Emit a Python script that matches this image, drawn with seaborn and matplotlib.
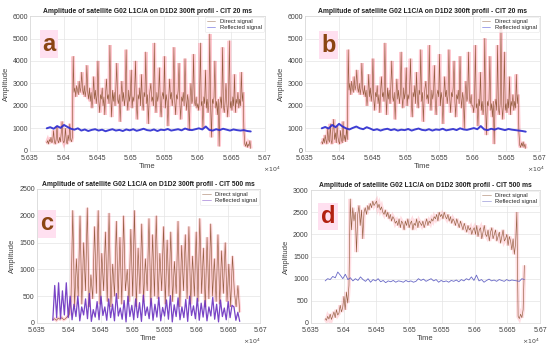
import numpy as np
import matplotlib
matplotlib.use("Agg")
import matplotlib.pyplot as plt
import seaborn as sns

# ===================== DATA =====================
TITLE_20  = "Amplitude of satellite G02 L1C/A on D1D2 300ft profil - CIT 20 ms"
TITLE_500 = "Amplitude of satellite G02 L1C/A on D1D2 300ft profil - CIT 500 ms"
x_ticks  = [5.635, 5.64, 5.645, 5.65, 5.655, 5.66, 5.665, 5.67]
x_labels = ["5.635", "5.64", "5.645", "5.65", "5.655", "5.66", "5.665", "5.67"]
y_ticks_ab = [0, 1000, 2000, 3000, 4000, 5000, 6000]
y_ticks_c  = [0, 500, 1000, 1500, 2000, 2500]
y_ticks_d  = [0, 500, 1000, 1500, 2000, 2500, 3000]

# time span of each record (x 10^4)
span_a = (5.6375, 5.6679)
span_b = (5.6375, 5.6679)
span_c = (5.6375, 5.6668)
span_d = (5.6372, 5.6676)

# panel a - CIT 20 ms
direct_a = [350, 450, 300, 500, 400, 600, 350, 450, 900, 400, 300, 500, 1100, 450, 350, 600,
            400, 800, 1300, 450, 350, 500, 1000, 400, 300, 700, 450, 1200, 500, 400, 600,
            4200, 2600, 2800, 2400, 2900, 2700, 2500, 3100, 2600, 2800, 3500, 2700, 2500, 2900,
            2400, 2700, 3800, 2600, 2300, 2800,
            2200, 2600, 1900, 2400, 3300, 2300, 2700, 2100, 2500, 4000,
            2200, 1700, 2500, 2300, 2800, 2000, 2400, 1600, 2600, 3200,
            2300, 2500, 2100, 4700, 2400, 1500, 2700, 2200, 2600, 2000,
            2800, 3900, 2300, 2100, 2500, 1300, 2400, 3100, 2200, 2600,
            2000, 2400, 4500, 2300, 1800, 2700, 2200, 2500, 3600, 1900,
            2400, 2200, 2700, 4000, 2100, 1400, 2500, 2300, 2800, 2000,
            3400, 2300, 1800, 2600, 2400, 4400, 2100, 2500, 1200, 2300,
            2700, 3000, 2200, 2400, 2000, 4800, 2300, 1700, 2600, 2200,
            2500, 3700, 2100, 1500, 2400, 2600, 2300, 4200, 1900, 2500,
            2200, 1100, 2400, 3200, 2300, 2600, 2000, 2400, 4600, 2200,
            1600, 2500, 2300, 2700, 3900, 2100, 1400, 2400, 2200, 2600,
            2000, 4100, 2300, 1800, 2500, 2200, 900, 2400, 3000, 2100,
            2300, 4300, 2200, 2000, 2400, 1900,
            2100, 1800, 2300, 4800, 2000, 2200, 1000, 2400, 2100, 3600,
            1900, 2300, 1700, 2200, 5200, 2000, 600, 2300, 2100, 2400,
            4000, 1900, 2200, 1600, 2300, 200, 2100, 2400, 1900, 4600,
            2000, 1700, 2200, 3000, 2100, 1500, 2300, 4900, 1900, 2200,
            1800, 2400, 2000, 3400, 1700, 2300, 2100, 2600, 1900, 2300,
            2000, 3500, 2200, 2600,
            900, 300, 200, 400, 150, 300, 200, 450, 100]
reflected_a = [1000, 1050, 980, 1100, 1020, 1150, 1060, 980, 940, 1000, 900, 950, 880, 930, 960, 900, 940,
               870, 920, 960, 900, 930, 880, 950, 910, 960, 890, 930, 980, 920, 900, 950, 880, 940, 920,
               970, 900, 930, 960, 910, 990, 940, 920, 960, 1000, 950, 1080, 930, 900, 960, 920, 980,
               940, 900, 950, 920, 900, 920, 880, 860]

# panel b - CIT 20 ms
direct_b = [400, 300, 550, 350, 700, 450, 300, 1000, 500, 380, 1200, 450, 300, 900, 1400, 500,
            800, 350, 1100, 600, 400, 300, 900, 500, 350, 1300, 450, 700, 400, 1000, 500,
            4500, 2700, 3000, 2500, 3100, 2800, 2600, 3300, 2700, 2900, 3600, 2800, 2600, 3000,
            2500, 2800, 3900, 2700, 2500, 2900,
            2400, 2700, 2000, 2500, 3400, 2400, 2800, 2200, 2600, 4100,
            2300, 1800, 2600, 2400, 2900, 2100, 2500, 1700, 2700, 3300,
            2400, 2600, 2200, 4800, 2500, 1600, 2800, 2300, 2700, 2100,
            2900, 4000, 2400, 2200, 2600, 1400, 2500, 3200, 2300, 2700,
            2100, 2500, 4400, 2400, 1900, 2800, 2300, 2600, 3700, 2000,
            2500, 2300, 2800, 4100, 2200, 1500, 2600, 2400, 2900, 2100,
            3500, 2400, 1900, 2700, 2500, 4500, 2200, 2600, 1300, 2400,
            2800, 3100, 2300, 2500, 2100, 4700, 2400, 1800, 2700, 2300,
            2600, 3800, 2200, 1600, 2500, 2700, 2400, 4300, 2000, 2600,
            2300, 1200, 2500, 3300, 2400, 2700, 2100, 2500, 4500, 2300,
            1700, 2600, 2400, 2800, 4000, 2200, 1500, 2500, 2300, 2700,
            2100, 4200, 2400, 1900, 2600, 2300, 1000, 2500, 3100, 2200,
            2400, 4400, 2300, 2100, 2500, 2000,
            2000, 1700, 2200, 4700, 1900, 2100, 1100, 2300, 2000, 3500,
            1800, 2200, 1600, 2100, 5000, 1900, 700, 2200, 2000, 2300,
            4200, 1800, 2100, 1500, 2200, 300, 2000, 2300, 1800, 4700,
            1900, 1600, 2100, 5500, 2000, 1400, 2200, 4400, 1800, 2100,
            1700, 2300, 1900, 3300, 1600, 2200, 2000, 2500, 1800, 2200,
            1900, 3400, 2100, 2500,
            800, 250, 150, 350, 200, 400, 150, 300, 100]
reflected_b = [1000, 1060, 990, 1150, 1050, 1200, 1080, 1000, 950, 1020, 1080, 1000, 960, 1050, 990, 920,
               960, 900, 950, 980, 920, 960, 900, 940, 920, 970, 900, 950, 990, 930, 910, 960, 900, 950,
               930, 980, 910, 940, 970, 920, 1000, 950, 930, 970, 1010, 960, 1100, 950, 920, 980, 940,
               1000, 960, 920, 970, 940, 920, 900, 880, 850]

# panel c - CIT 500 ms
direct_c = [60, 80, 50, 90, 70, 100, 60, 80, 120, 150,
            400, 2100, 300, 1200, 500, 2000, 350, 1500, 600, 2150, 300, 900, 450, 1800, 550, 2100,
            350, 1300, 600, 1700, 400, 2050, 300, 1100, 500, 1900, 450, 1600, 350, 2000, 600, 1000,
            400, 1750, 500, 2100, 300, 1400, 550, 1850, 400, 1200, 600, 1950, 350, 1650, 500, 2000,
            450, 1300, 600, 1800, 350, 1550, 500, 1700, 400, 1150, 550, 1900, 300, 1450, 600, 1650,
            450, 1800, 350, 1250, 500, 1700, 400, 1950, 550, 1400, 300, 1600, 450, 1850, 500, 1200,
            400, 1650, 350, 1350, 550, 1500, 400, 1100, 300, 1250,
            600, 300, 700, 200]
reflected_c = [50, 700, 100, 750, 80, 600, 150, 750, 100, 500,
               60, 350, 120, 500, 40, 300, 150, 450, 80, 550, 30, 250, 110, 400, 60, 500, 140, 300,
               50, 450, 100, 350, 40, 550, 130, 280, 70, 420, 20, 500, 120, 330, 60, 450, 100, 380,
               30, 520, 140, 300, 80, 460, 50, 350, 110, 480, 40, 290, 130, 430, 70, 510, 20, 340,
               120, 470, 60, 300, 100, 440, 30, 500, 140, 320, 80, 460, 50, 370, 110, 420, 40, 300,
               130, 480, 70, 350, 20, 430, 120, 280, 60, 400, 100, 330,
               300, 50, 200, 30]

# panel d - CIT 500 ms
direct_d = [100, 60, 150, 90, 200, 80, 160, 250, 120, 300, 180, 220, 400, 250, 350, 600, 300, 700, 450, 850,
            2800,
            2100, 2600, 2300, 2500, 1600, 2450, 2650, 2200, 2550, 1900, 2500, 2600, 2450, 2650, 2550,
            2700, 2600, 2750, 2650,
            2700, 2750, 2600, 2680, 2550, 2620, 2500, 2450, 2550, 2400, 2500, 2350, 2450, 2300, 2400,
            2350, 2250,
            2300, 2200, 2350, 2150, 2300, 2250, 2100, 2300, 2200, 2350, 2150, 2250, 2300, 2100, 2250,
            2200, 2350, 2150, 2300, 2250, 2200, 2300, 2150, 2250, 2350, 2200, 2300, 2250, 2350, 2300, 2400,
            2350, 2450, 2300, 2500, 2400, 2450, 2350, 2500, 2400, 2350,
            2450, 2300, 2400, 2250, 2350, 2300, 2200, 2350, 2250, 2150, 2300, 2200, 2100, 2250, 2150,
            2050, 2200, 2100, 2150, 2000, 2100,
            2150, 2000, 2200, 1950, 2100, 2150, 1900, 2050, 2200, 2000, 1950, 2100, 1850, 2050, 2150,
            1900, 2000, 2100, 1850, 1950, 2050, 1800, 1950, 2100, 1850, 1900, 2000, 1750, 1950, 1850,
            1650, 1900, 1550, 1800, 2500,
            150, 100, 200, 120, 300, 1300]
reflected_d = [950, 1000, 980, 1050, 1020, 1150, 1080, 1000, 1100, 980, 1020, 950, 1000, 960, 1040, 980,
               940, 1000, 920, 980, 950, 1000, 930, 960, 910, 950, 930, 960, 920, 950, 940, 920, 960,
               930, 950, 920, 940, 1000, 960, 990, 940, 970, 1000, 950, 980, 920, 960, 930, 950, 920,
               960, 940, 970, 930, 980, 950, 1000, 970, 1040, 960, 1080, 950, 980, 920, 960, 990, 950,
               970, 940, 980, 960, 940, 980, 950, 970, 960, 950, 940, 1000, 980]

# ===================== STYLE =====================
sns.set_theme(style="whitegrid")
plt.rcParams["font.family"] = ["Liberation Sans", "DejaVu Sans"]

BROWN  = "#8a5230"
HALO   = "#ff2848"
panels = [
    # key, rect, title, direct, reflected, span, yticks, ymax, refl colour, refl width,
    # letter colour, letter pos, x10^4 pos, halo width, halo alpha
    ("a", [0.0545, 0.568, 0.427, 0.386], TITLE_20, direct_a, reflected_a, span_a, y_ticks_ab, 6000,
     "#2a2ad0", 1.4, "#8b4513", (0.08, 0.79), 1.03, 2.6, 0.25),
    ("b", [0.5545, 0.568, 0.427, 0.386], TITLE_20, direct_b, reflected_b, span_b, y_ticks_ab, 6000,
     "#2a2ad0", 1.4, "#8b4513", (0.10, 0.785), 0.985, 2.6, 0.25),
    ("c", [0.067, 0.0745, 0.406, 0.384], TITLE_500, direct_c, reflected_c, span_c, y_ticks_c, 2500,
     "#6a30c0", 0.9, "#8b4513", (0.045, 0.74), 0.965, 2.2, 0.2),
    ("d", [0.565, 0.0745, 0.417, 0.381], TITLE_500, direct_d, reflected_d, span_d, y_ticks_d, 3000,
     "#5858c0", 0.6, "#b22010", (0.075, 0.80), 0.96, 2.8, 0.15),
]

fig = plt.figure(figsize=(5.5, 3.49), dpi=100)

for (key, rect, title, direct, refl, span, yticks, ymax, rcol, rlw,
     lcol, lpos, xpos, hlw, halpha) in panels:
    ax = fig.add_axes(rect)
    t_dir = np.linspace(span[0], span[1], len(direct))
    t_ref = np.linspace(span[0], span[1], len(refl))

    # pink halo round the direct signal, then the signals themselves
    sns.lineplot(x=t_dir, y=direct, ax=ax, color=HALO, lw=hlw, alpha=halpha, sort=False,
                 solid_joinstyle="miter", solid_capstyle="butt")
    sns.lineplot(x=t_dir, y=direct, ax=ax, color=BROWN, lw=0.45, alpha=0.9, sort=False,
                 label="Direct signal")
    sns.lineplot(x=t_ref, y=refl, ax=ax, color=rcol, lw=rlw, alpha=0.9, sort=False,
                 label="Reflected signal")

    ax.set_xlim(5.635, 5.67)
    ax.set_ylim(0, ymax)
    ax.set_xticks(x_ticks)
    ax.set_xticklabels(x_labels)
    ax.set_yticks(yticks)
    ax.tick_params(labelsize=5, colors="#404040", length=0)
    ax.tick_params(axis="x", pad=3)
    ax.tick_params(axis="y", pad=1.5)
    ax.grid(True, color="#e4e4e4", lw=0.5)
    for s in ax.spines.values():
        s.set_color("#d8d8d8")
        s.set_linewidth(0.5)
    ax.set_title(title, fontsize=4.9, fontweight="bold", color="#202020", pad=2.5)
    ax.set_xlabel("Time", fontsize=5.5, color="#404040", labelpad=0.5)
    ax.set_ylabel("Amplitude", fontsize=5.5, color="#404040", labelpad=2)
    ax.text(xpos, -0.105, r"$\times10^4$", transform=ax.transAxes, fontsize=4.5,
            color="#404040", ha="center", va="top")
    leg = ax.legend(loc="upper right", fontsize=4.2, frameon=True, handlelength=1.5,
                    borderpad=0.3, labelspacing=0.15, borderaxespad=0.2)
    leg.get_frame().set_edgecolor("#e0e0e0")
    leg.get_frame().set_linewidth(0.4)
    for ln in leg.get_lines():
        ln.set_linewidth(0.5)
        ln.set_alpha(0.6)
    ax.text(lpos[0], lpos[1], key, transform=ax.transAxes, fontsize=17, fontweight="bold",
            color=lcol, ha="center", va="center",
            bbox=dict(boxstyle="square,pad=0.1", fc="#ffe0f0", ec="none"))

fig.savefig("out.png", dpi=100)
plt.close(fig)
